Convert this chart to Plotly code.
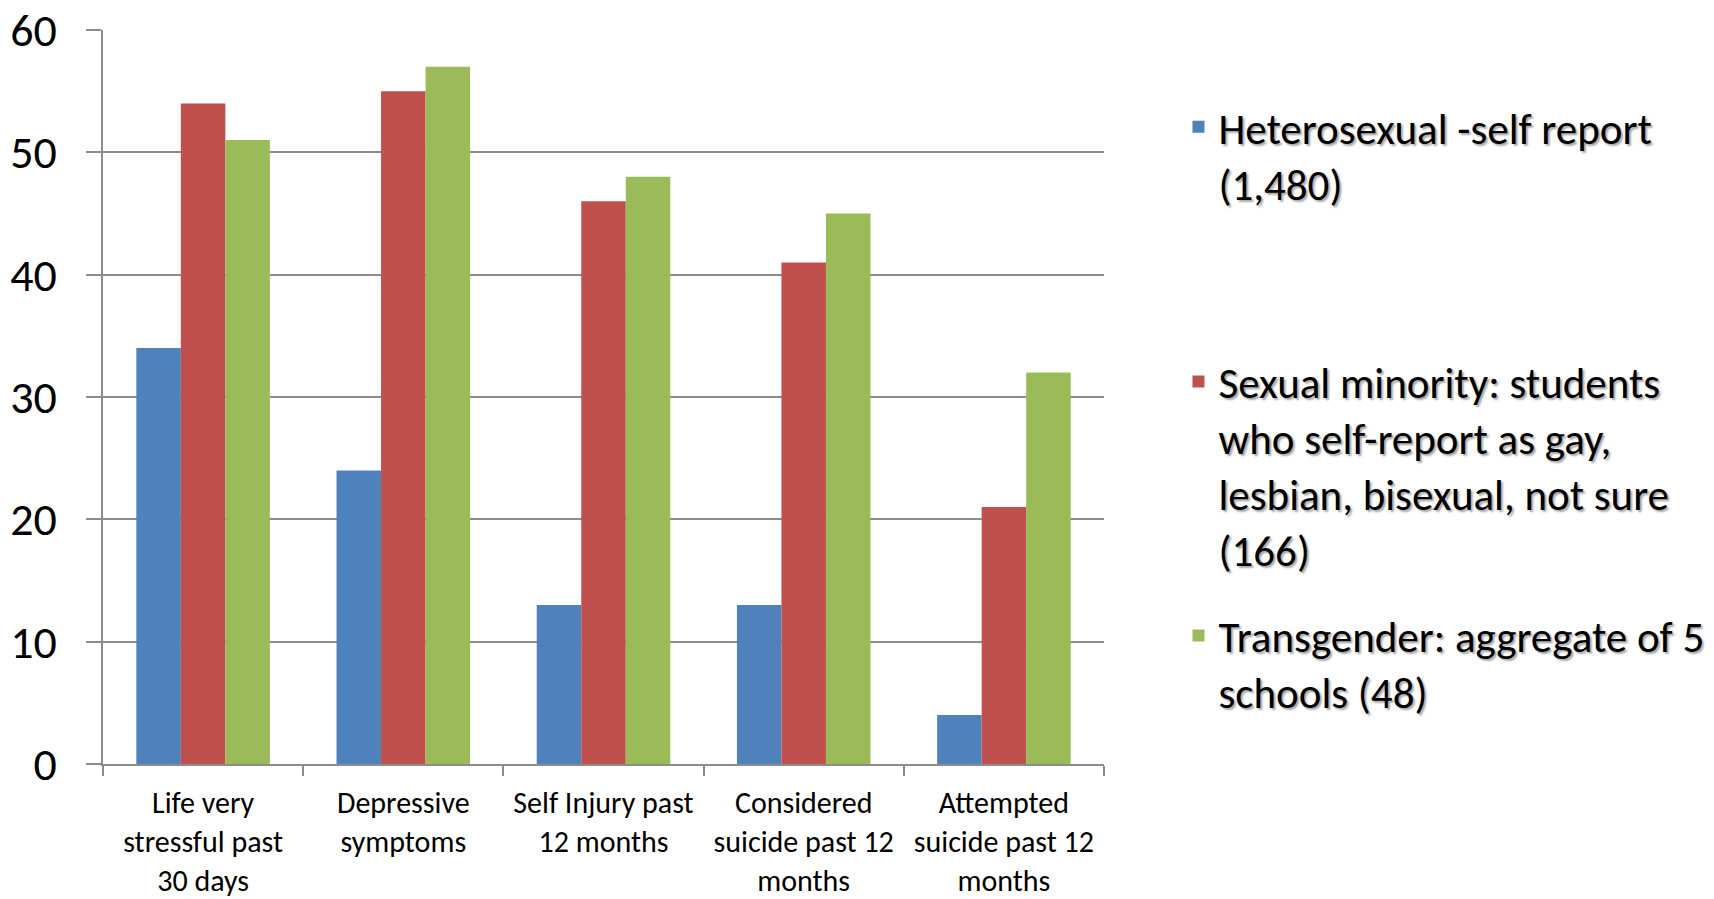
import plotly.graph_objects as go

categories = [
    "Life very<br>stressful past<br>30 days",
    "Depressive<br>symptoms",
    "Self Injury past<br>12 months",
    "Considered<br>suicide past 12<br>months",
    "Attempted<br>suicide past 12<br>months",
]
heterosexual = [34, 24, 13, 13, 4]
sexual_minority = [54, 55, 46, 41, 21]
transgender = [51, 57, 48, 45, 32]

series_names = [
    "Heterosexual -self report<br>(1,480)",
    "Sexual minority: students<br>who self-report as gay,<br>lesbian, bisexual, not sure<br>(166)",
    "Transgender: aggregate of 5<br>schools (48)",
]
series_values = [heterosexual, sexual_minority, transgender]
colors = ["#4F81BD", "#C0504D", "#9BBB59"]
legends = ["legend", "legend2", "legend3"]

FONT = "Carlito, Lato, 'Open Sans', sans-serif"
GRID = "#8C8C8C"

fig = go.Figure()
for name, vals, col, lg in zip(series_names, series_values, colors, legends):
    fig.add_trace(go.Bar(x=categories, y=vals, name=name, marker_color=col,
                         marker_line_width=0, legend=lg, showlegend=True))

legend_font = dict(family=FONT, size=43, color="black",
                   shadow="2px 2px 2px rgba(0,0,0,0.35)")
common_legend = dict(xref="paper", yref="paper", xanchor="left", yanchor="top",
                     font=legend_font, bgcolor="rgba(0,0,0,0)", borderwidth=0,
                     itemwidth=30, tracegroupgap=0, visible=True, valign="top")

fig.update_layout(
    width=1714, height=899,
    margin=dict(l=103, r=610, t=29.5, b=135, autoexpand=False),
    paper_bgcolor="white", plot_bgcolor="white",
    barmode="group", bargap=0.333, bargroupgap=0,
    showlegend=True,
    font=dict(family=FONT, color="black"),
    legend=dict(x=1.0744, y=0.915, **common_legend),
    legend2=dict(x=1.0744, y=0.568, **common_legend),
    legend3=dict(x=1.0744, y=0.222, **common_legend),
    xaxis=dict(
        showline=True, linecolor=GRID, linewidth=2,
        ticks="outside", tickson="boundaries", ticklen=10, tickcolor=GRID, tickwidth=2,
        tickfont=dict(family=FONT, size=30, color="black"),
        ticklabelstandoff=11, showgrid=False, tickangle=0, automargin=False,
        ticklabeloverflow="allow",
    ),
    yaxis=dict(
        range=[0, 60], dtick=10, tick0=0,
        showline=True, linecolor=GRID, linewidth=2,
        showgrid=True, gridcolor=GRID, gridwidth=2,
        ticks="outside", ticklen=15, tickcolor=GRID, tickwidth=2,
        tickfont=dict(family=FONT, size=46, color="black"),
        ticklabelstandoff=20, zeroline=False, automargin=False,
        ticklabeloverflow="allow",
    ),
)

fig.write_html("out.html", config={"displayModeBar": False},
               post_script="document.body.style.margin='0';")
